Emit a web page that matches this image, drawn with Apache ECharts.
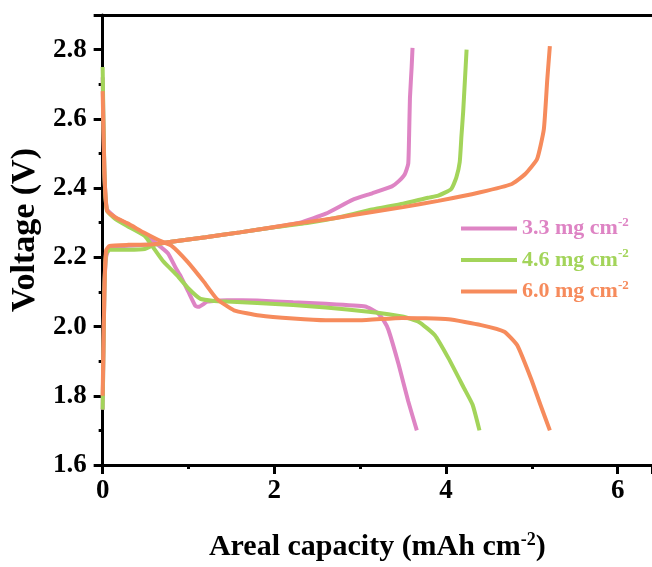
<!DOCTYPE html>
<html><head><meta charset="utf-8">
<script src="https://cdn.jsdelivr.net/npm/echarts@6/dist/echarts.min.js"></script>
<style>html,body{margin:0;padding:0;background:#fff}#c{width:652px;height:567px}</style>
</head><body><div id="c"></div>
<script>
// Legend names
var names = ['3.3 mg cm-2', '4.6 mg cm-2', '6.0 mg cm-2'];
var colors = ['#de84c4', '#a3d45a', '#f68b5c'];
// Discharge curves [capacity, voltage]
var dis33 = [[0,2.72],[0.02,2.45],[0.05,2.34],[0.15,2.315],[0.29,2.296],[0.45,2.272],[0.6,2.245],[0.76,2.212],[0.85,2.17],[0.91,2.145],[1.0,2.1],[1.08,2.06],[1.12,2.057],[1.22,2.072],[1.45,2.076],[1.8,2.075],[2.22,2.07],[2.6,2.066],[3.06,2.058],[3.2,2.04],[3.28,2.015],[3.33,1.99],[3.45,1.889],[3.56,1.784],[3.66,1.70]];
var dis46 = [[0,2.75],[0.02,2.45],[0.05,2.335],[0.15,2.31],[0.29,2.29],[0.49,2.262],[0.57,2.235],[0.7,2.19],[0.87,2.147],[1.0,2.11],[1.14,2.08],[1.3,2.074],[1.45,2.072],[1.8,2.068],[2.22,2.062],[2.6,2.055],[3.1,2.043],[3.49,2.029],[3.68,2.014],[3.87,1.975],[4.03,1.908],[4.21,1.822],[4.31,1.774],[4.39,1.70]];
var dis60 = [[0,2.68],[0.02,2.45],[0.05,2.335],[0.15,2.315],[0.29,2.298],[0.49,2.27],[0.65,2.25],[0.8,2.234],[0.99,2.187],[1.18,2.129],[1.33,2.08],[1.53,2.047],[1.83,2.032],[2.22,2.023],[2.6,2.018],[2.99,2.018],[3.49,2.025],[4.03,2.021],[4.41,2.004],[4.68,1.985],[4.83,1.946],[4.99,1.85],[5.10,1.774],[5.21,1.70]];
// Charge curves [capacity, voltage]
var chg33 = [[0,1.76],[0.02,2.1],[0.04,2.2],[0.08,2.228],[0.2,2.232],[0.4,2.235],[0.6,2.238],[0.8,2.245],[1.2,2.258],[1.6,2.272],[2.0,2.287],[2.3,2.30],[2.6,2.326],[2.91,2.366],[3.14,2.385],[3.37,2.405],[3.45,2.42],[3.52,2.44],[3.56,2.47],[3.57,2.55],[3.58,2.66],[3.6,2.75],[3.61,2.805]];
var chg46 = [[0,1.76],[0.02,2.1],[0.04,2.21],[0.08,2.222],[0.3,2.222],[0.49,2.224],[0.6,2.236],[0.8,2.245],[1.2,2.258],[1.6,2.272],[2.0,2.287],[2.4,2.30],[2.8,2.318],[3.14,2.338],[3.5,2.355],[3.79,2.372],[3.91,2.378],[4.06,2.397],[4.12,2.43],[4.16,2.475],[4.18,2.55],[4.2,2.62],[4.22,2.71],[4.24,2.80]];
var chg60 = [[0,1.80],[0.02,2.1],[0.04,2.22],[0.08,2.233],[0.3,2.236],[0.57,2.237],[0.8,2.245],[1.2,2.258],[1.6,2.272],[2.22,2.296],[2.7,2.313],[3.14,2.331],[3.5,2.345],[3.91,2.363],[4.4,2.388],[4.76,2.411],[4.92,2.44],[5.06,2.483],[5.14,2.57],[5.18,2.714],[5.21,2.81]];
// Axis ranges
var xMin = 0, xMax = 6.4, xInterval = 2;
var yMin = 1.6, yMax = 2.9, yInterval = 0.2;

var FONT = '"Liberation Serif","Times New Roman",serif';
var chart = echarts.init(document.getElementById('c'), null, {renderer:'canvas'});
var pairs = [[dis33, chg33],[dis46, chg46],[dis60, chg60]];
var series = [];
pairs.forEach(function(p, i){
  p.forEach(function(d){
    series.push({type:'line', name:names[i], data:d, symbol:'none', smooth:0.15,
      lineStyle:{color:colors[i], width:4}, itemStyle:{color:colors[i]}, z: 2+i, silent:true, animation:false});
  });
});
var axisLabelBase = {fontFamily:FONT, fontWeight:'bold', fontSize:27, color:'#000'};
var axisBase = {
  axisLine:{show:true, onZero:false, lineStyle:{color:'#000', width:3}},
  axisTick:{show:true, inside:false, length:9, lineStyle:{color:'#000', width:3}},
  minorTick:{show:true, splitNumber:2, length:4, lineStyle:{color:'#000', width:3}},
  splitLine:{show:false}
};
var legendRich = {};
colors.forEach(function(c, i){
  legendRich['a' + i] = {fontFamily:FONT, fontWeight:'bold', fontSize:22, color:c};
  legendRich['s' + i] = {fontFamily:FONT, fontWeight:'bold', fontSize:13, color:c, verticalAlign:'top', padding:[0,0,12,0]};
});
var option = {
  animation:false,
  backgroundColor:'#fff',
  grid:{left:98, right:0, top:15, bottom:100, containLabel:false},
  legend:{
    show:true, orient:'vertical', left:456, top:211, itemWidth:56, itemHeight:4, itemGap:8,
    icon:'rect',
    data:names,
    formatter:function(n){ var i = names.indexOf(n); return '{a' + i + '|' + n.replace('-2','') + '}{s' + i + '|-2}'; },
    textStyle:{fontFamily:FONT, fontWeight:'bold', fontSize:22, rich:legendRich},
    selectedMode:false
  },
  xAxis:[
    Object.assign({}, axisBase, {type:'value', min:xMin, max:xMax, interval:xInterval, position:'bottom',
      axisLabel:Object.assign({}, axisLabelBase, {margin:13, showMaxLabel:false}),
      name:'{a|Areal capacity (mAh cm}{s|-2}{a|)}', nameLocation:'middle', nameGap:66,
      nameTextStyle:{rich:{
        a:{fontFamily:FONT, fontWeight:'bold', fontSize:30, color:'#000'},
        s:{fontFamily:FONT, fontWeight:'bold', fontSize:18, color:'#000', verticalAlign:'top', padding:[0,0,14,0]}
      }}
    }),
    {type:'value', min:xMin, max:xMax, position:'top', axisLine:{show:true, onZero:false, lineStyle:{color:'#000', width:3}},
      axisTick:{show:false}, axisLabel:{show:false}, splitLine:{show:false}}
  ],
  yAxis:[
    Object.assign({}, axisBase, {type:'value', min:yMin, max:yMax, interval:yInterval,
      axisLabel:Object.assign({}, axisLabelBase, {margin:16, showMaxLabel:false, formatter:function(v){return v.toFixed(1);}}),
      name:'Voltage (V)', nameLocation:'middle', nameGap:60, nameRotate:90,
      nameTextStyle:{fontFamily:FONT, fontWeight:'bold', fontSize:34, color:'#000', padding:[0,0,0,20]}
    })
  ],
  series:series
};
chart.setOption(option);
</script></body></html>
